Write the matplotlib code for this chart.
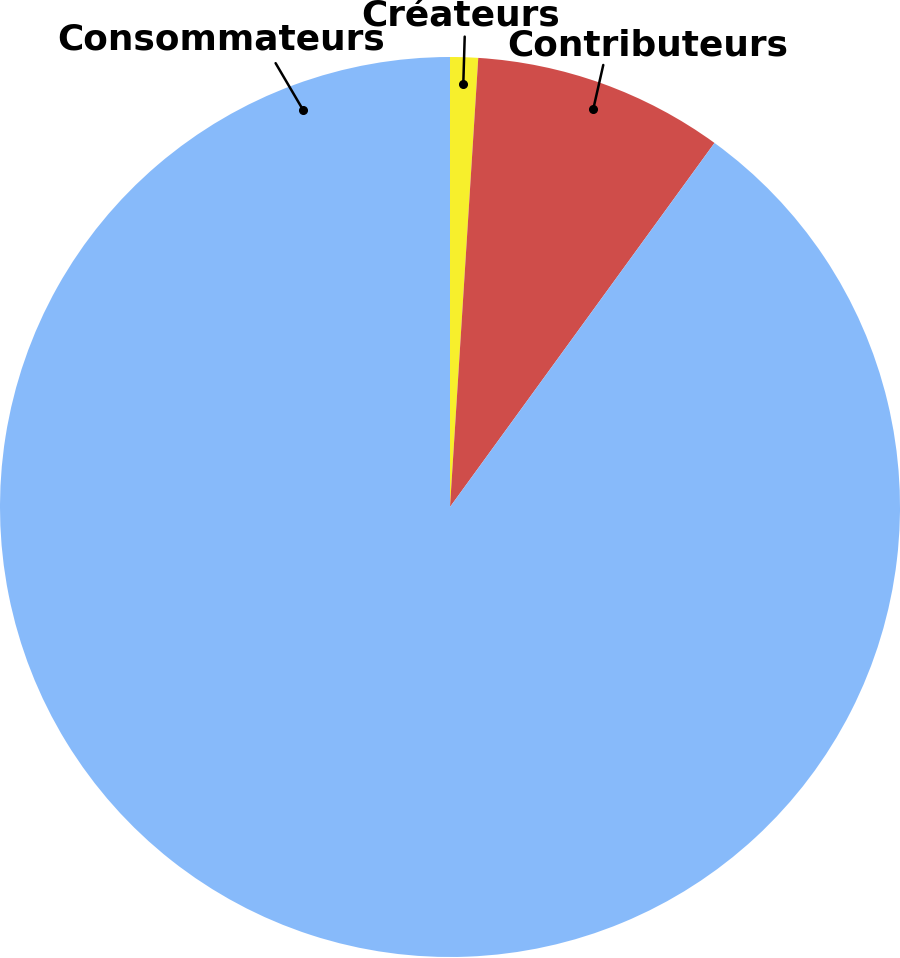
import numpy as np
import matplotlib
matplotlib.use('Agg')
import matplotlib.pyplot as plt

# 90-9-1 rule
labels = ['Créateurs', 'Contributeurs', 'Consommateurs']
shares = [1, 9, 90]
colors = ['#F7EF2C', '#CF4D4A', '#87BAFA']

# label baselines (data coords, pie radius = 1) and where the leader leaves the text
text_pos = [(0.023, 1.067), (0.44, 1.004), (-0.508, 1.016)]
leader_rel = [(0.523, 0.13), (0.348, 0.18), (0.654, 0.0)]
leader_shrink = [0, 0, 3]
anchor_r = 0.94

fig = plt.figure(figsize=(9, 9.58), dpi=100)
ax = fig.add_axes([0, 1 / 958, 1, 900 / 958])

wedges, _ = ax.pie(shares, colors=colors, startangle=90, counterclock=False,
                   radius=1, center=(0, 0), wedgeprops=dict(linewidth=0))
ax.set_xlim(-1, 1)
ax.set_ylim(-1, 1)
ax.set_aspect('equal')
ax.axis('off')

# anchor angles: wedge midpoints, except the big slice which is labelled near the top
mids = []
for w in wedges:
    mids.append((w.theta1 + w.theta2) / 2)
mids[2] = 90 + 20.3

for lab, ang, (tx, ty), rel, shr in zip(labels, mids, text_pos, leader_rel, leader_shrink):
    px = anchor_r * np.cos(np.radians(ang))
    py = anchor_r * np.sin(np.radians(ang))
    ax.plot(px, py, 'o', color='black', markersize=5.5, clip_on=False)
    ax.annotate(lab, xy=(px, py), xytext=(tx, ty), ha='center', va='baseline',
                fontsize=25.8, fontweight='bold', family='DejaVu Sans',
                annotation_clip=False,
                arrowprops=dict(arrowstyle='-', color='black', lw=1.8,
                                relpos=rel, shrinkA=shr, shrinkB=0))

fig.savefig('out.png', dpi=100)
